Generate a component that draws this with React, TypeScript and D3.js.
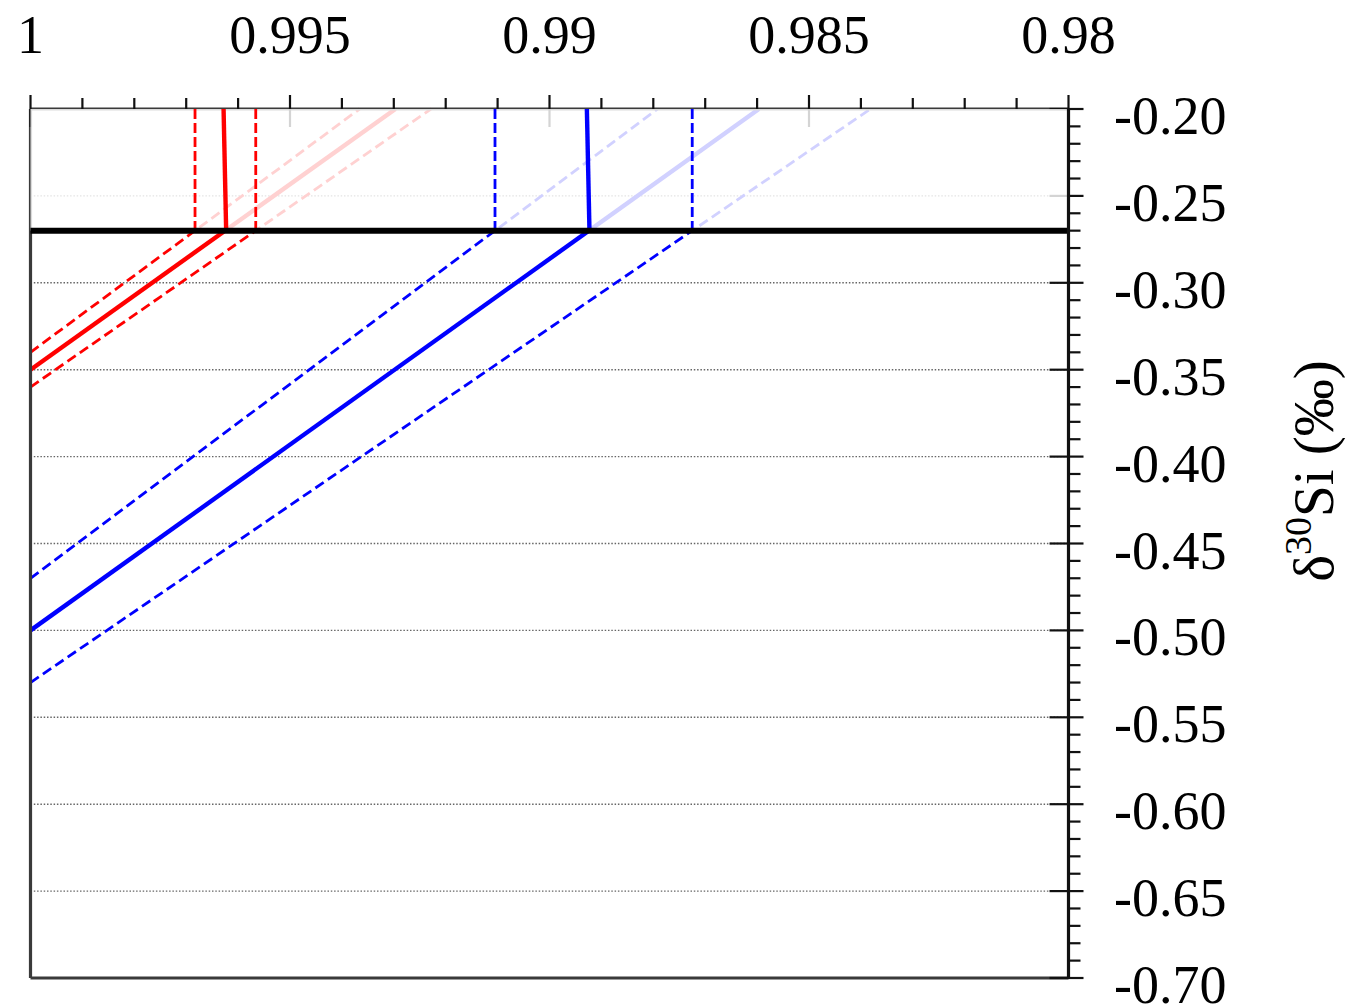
import React from "react";
import * as d3 from "d3";

// ---- data ----
const alphaDomain = [1, 0.98];
const deltaDomain = [-0.2, -0.7];
const alphaMajorTicks = [1, 0.995, 0.99, 0.985, 0.98];
const alphaTickLabels = ["1", "0.995", "0.99", "0.985", "0.98"];
const deltaMajorTicks = [-0.2, -0.25, -0.3, -0.35, -0.4, -0.45, -0.5, -0.55, -0.6, -0.65, -0.7];
const deltaTickLabels = ["-0.20", "-0.25", "-0.30", "-0.35", "-0.40", "-0.45", "-0.50", "-0.55", "-0.60", "-0.65", "-0.70"];
const thresholdDelta = -0.27;

// each line: start value at alpha = 1, alpha where it meets the threshold, and
// the vertical segment's alpha at the top (-0.20) / bottom (threshold)
const seriesNames = ["red-upper", "red-mid", "red-lower", "blue-upper", "blue-mid", "blue-lower"];
const seriesColors = ["#ff0000", "#ff0000", "#ff0000", "#0000ff", "#0000ff", "#0000ff"];
const seriesDashed = [true, false, true, true, false, true];
const seriesStartDelta = [-0.34, -0.35, -0.36, -0.47, -0.5, -0.53];
const seriesCrossAlpha = [0.99683, 0.99625, 0.99566, 0.99105, 0.98924, 0.98725];
const seriesVertTopAlpha = [0.99683, 0.99628, 0.99566, 0.99105, 0.98928, 0.98725];
const seriesVertBottomAlpha = [0.99683, 0.99623, 0.99566, 0.99105, 0.98923, 0.98725];

const W = 1348;
const H = 1007;
const L = 30.5, R = 1068.5, T = 109, B = 978;
const FONT = "'Liberation Serif', 'Times New Roman', serif";

export default function App() {
  const x = d3.scaleLinear().domain(alphaDomain).range([L, R]);
  const y = d3.scaleLinear().domain(deltaDomain).range([T, B]);
  const line = d3.line<[number, number]>().x((d) => x(d[0])).y((d) => y(d[1]));

  const minorAlpha = d3.range(0, 21).map((i) => 1 - i * 0.001);
  const minorDelta = d3.range(0, 51).map((i) => -0.2 - i * 0.01);
  const isMajorAlpha = (a: number) => alphaMajorTicks.some((m) => Math.abs(m - a) < 1e-7);
  const isMajorDelta = (v: number) => deltaMajorTicks.some((m) => Math.abs(m - v) < 1e-7);

  const diagonals = seriesNames.map((name, i) => {
    const d0 = seriesStartDelta[i];
    const ac = seriesCrossAlpha[i];
    const slope = (thresholdDelta - d0) / (ac - 1);
    const aTop = 1 + (deltaDomain[0] - d0) / slope;
    return { name, pts: [[1, d0], [aTop, deltaDomain[0]]] as [number, number][] };
  });

  const verticals = seriesNames.map((name, i) => ({
    name,
    pts: [
      [seriesVertTopAlpha[i], deltaDomain[0]],
      [seriesVertBottomAlpha[i], thresholdDelta],
    ] as [number, number][],
  }));

  return (
    <svg width={W} height={H} style={{ position: "absolute", left: 0, top: 0, background: "#fff" }}>
      {/* grid lines */}
      {deltaMajorTicks.slice(1, -1).map((v) => (
        <line key={"g" + v} x1={L} x2={R} y1={y(v)} y2={y(v)} stroke="#666" strokeWidth={1.4} strokeDasharray="1.5,1.8" />
      ))}

      {/* diagonal lines */}
      {diagonals.map((d, i) => (
        <path
          key={d.name}
          d={line(d.pts) || ""}
          fill="none"
          stroke={seriesColors[i]}
          strokeWidth={seriesDashed[i] ? 2.8 : 4.4}
          strokeDasharray={seriesDashed[i] ? "10,5" : undefined}
        />
      ))}

      {/* frame left/bottom/top */}
      <line x1={L} x2={L} y1={T} y2={B} stroke="#3a3a3a" strokeWidth={3.2} />
      <line x1={L} x2={R} y1={B} y2={B} stroke="#3a3a3a" strokeWidth={3.2} />
      <line x1={L} x2={R} y1={T} y2={T} stroke="#3a3a3a" strokeWidth={3.2} />

      {/* top ticks */}
      {minorAlpha.map((a) => {
        const major = isMajorAlpha(a);
        return (
          <line
            key={"xt" + a}
            x1={x(a)}
            x2={x(a)}
            y1={major ? T + 18 : T}
            y2={major ? T - 14 : T - 11}
            stroke="#111"
            strokeWidth={2.2}
          />
        );
      })}

      {/* right major ticks inner part */}
      {deltaMajorTicks.map((v) => (
        <line key={"yti" + v} x1={R - 19} x2={R} y1={y(v)} y2={y(v)} stroke="#111" strokeWidth={2.2} />
      ))}

      {/* fade overlay above threshold */}
      <rect x={L} y={T} width={R - L} height={y(thresholdDelta) - T} fill="#fff" opacity={0.82} />

      {/* vertical segments */}
      {verticals.map((d, i) => (
        <path
          key={"v" + d.name}
          d={line(d.pts) || ""}
          fill="none"
          stroke={seriesColors[i]}
          strokeWidth={seriesDashed[i] ? 2.8 : 4.4}
          strokeDasharray={seriesDashed[i] ? "10,4" : undefined}
        />
      ))}

      {/* threshold line */}
      <line x1={L} x2={R} y1={y(thresholdDelta)} y2={y(thresholdDelta)} stroke="#000" strokeWidth={6} />

      {/* right axis */}
      <line x1={R} x2={R} y1={T - 1} y2={B + 1} stroke="#111" strokeWidth={3.2} />
      {minorDelta.map((v) => {
        const major = isMajorDelta(v);
        return (
          <line key={"yt" + v} x1={R} x2={major ? R + 15 : R + 12} y1={y(v)} y2={y(v)} stroke="#111" strokeWidth={2.2} />
        );
      })}

      {/* labels */}
      {alphaMajorTicks.map((a, i) => (
        <text key={"xl" + a} x={x(a)} y={53} textAnchor="middle" fontFamily={FONT} fontSize={54} fill="#000">
          {alphaTickLabels[i]}
        </text>
      ))}
      {deltaMajorTicks.map((v, i) => (
        <text key={"yl" + v} x={1114} y={y(v) + 25} textAnchor="start" fontFamily={FONT} fontSize={54} fill="#000">
          {deltaTickLabels[i]}
        </text>
      ))}

      <text transform="translate(1333,471) rotate(-90)" textAnchor="middle" fontFamily={FONT} fontSize={57} fill="#000">
        δ<tspan dy={-22} fontSize={38}>30</tspan>
        <tspan dy={22}>Si (‰)</tspan>
      </text>
    </svg>
  );
}
